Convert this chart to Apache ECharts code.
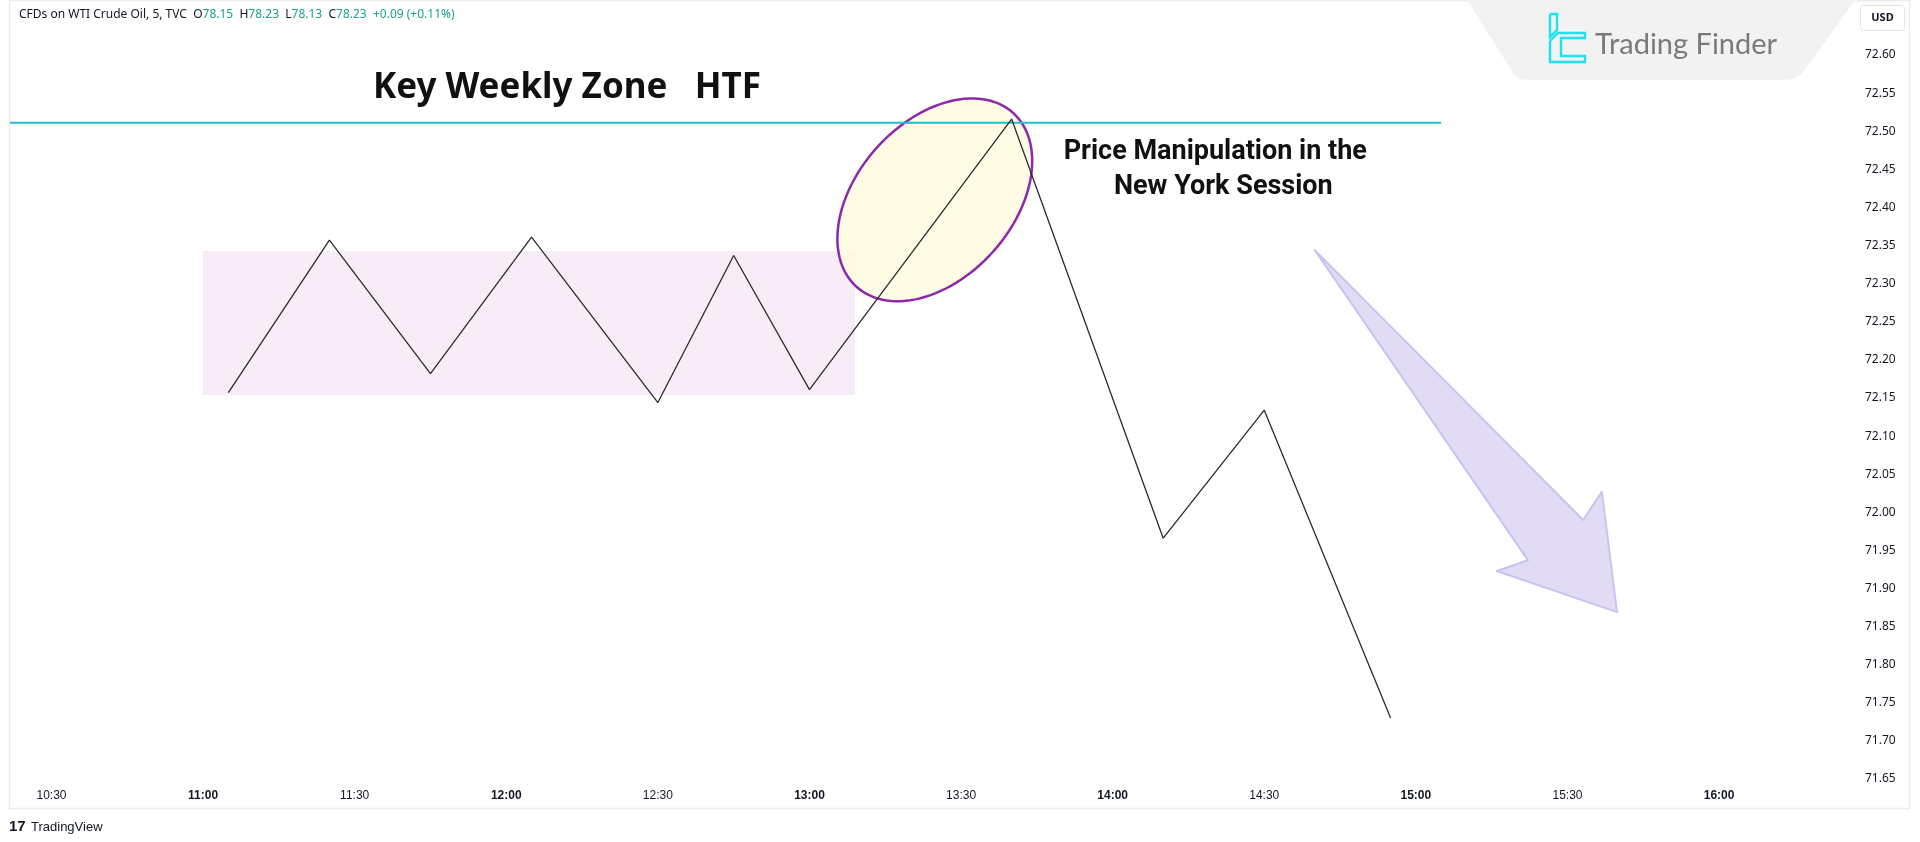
<!DOCTYPE html>
<html><head><meta charset="utf-8">
<script src="https://cdn.jsdelivr.net/npm/echarts@6/dist/echarts.min.js"></script>
<style>html,body{margin:0;padding:0;background:#fff}#c{width:1920px;height:842px}</style>
</head><body><div id="c"></div>
<script>
// ---- data (time = minutes since midnight, price in USD) ----
const priceTimes  = [665, 685, 705, 725, 750, 765, 780, 820, 850, 870, 895];
const priceValues = [72.157, 72.357, 72.182, 72.361, 72.144, 72.337, 72.161, 72.516, 71.966, 72.134, 71.730];
const keyLevelPrice = 72.511;
const keyLevelEndTime = 905;
const zoneTimes  = [660, 789];
const zonePrices = [72.154, 72.343];
const ellipseCenter = [804.8, 72.410];
const arrowTimes  = [880.0, 933.1, 936.8, 939.8, 916.0, 922.2];
const arrowPrices = [72.344, 71.990, 72.027, 71.869, 71.923, 71.937];
const timeTicks  = [630, 660, 690, 720, 750, 780, 810, 840, 870, 900, 930, 960];
const priceTicks = [71.65, 71.70, 71.75, 71.80, 71.85, 71.90, 71.95, 72.00, 72.05, 72.10, 72.15, 72.20, 72.25, 72.30, 72.35, 72.40, 72.45, 72.50, 72.55, 72.60];
const keyZoneLabel = {text: 'Key Weekly Zone   HTF', at: [732, 72.557]};
const manipLabel1 = {text: 'Price Manipulation in the', at: [860.3, 72.473]};
const manipLabel2 = {text: 'New York Session', at: [861.9, 72.427]};
const header = {symbol: 'CFDs on WTI Crude Oil, 5, TVC', o: '78.15', h: '78.23', l: '78.13', c: '78.23', chg: '+0.09 (+0.11%)'};

// ---- axes range ----
const X_MIN = 621.79, X_MAX = 985.91;
const Y_MIN = 71.6448, Y_MAX = 72.6709;

const chart = echarts.init(document.getElementById('c'), null, {renderer: 'canvas'});

function fmtTime(v) {
  const h = Math.floor(v / 60), m = Math.round(v % 60);
  return (h < 10 ? '0' : '') + h + ':' + (m < 10 ? '0' : '') + m;
}

function ellipsePoints(cx, cy, a, b, phiDeg) {
  const phi = phiDeg * Math.PI / 180, pts = [];
  for (let i = 0; i < 120; i++) {
    const th = i / 120 * Math.PI * 2;
    const x = a * Math.cos(th), y = b * Math.sin(th);
    pts.push([cx + x * Math.cos(phi) - y * Math.sin(phi), cy - (x * Math.sin(phi) + y * Math.cos(phi))]);
  }
  return pts;
}

function textSeries(lbl, style) {
  return {
    type: 'custom', z: 20, silent: true, clip: false,
    data: [lbl.at],
    renderItem: function (params, api) {
      const p = api.coord([api.value(0), api.value(1)]);
      return {type: 'text', x: p[0], y: p[1], style: Object.assign({
        text: lbl.text, align: 'center', verticalAlign: 'middle', fill: '#111'
      }, style)};
    }
  };
}

const option = {
  animation: false,
  backgroundColor: '#ffffff',
  grid: {left: 10, top: 1, width: 1840, height: 782, containLabel: false},
  xAxis: {
    type: 'value', min: X_MIN, max: X_MAX,
    axisLine: {show: false}, axisTick: {show: false}, splitLine: {show: false},
    axisLabel: {
      customValues: timeTicks, margin: 7,
      formatter: function (v) { const s = fmtTime(v); return (Math.round(v) % 60 === 0) ? '{b|' + s + '}' : '{n|' + s + '}'; },
      rich: {
        b: {fontSize: 12, fontWeight: 'bold', color: '#131722', fontFamily: 'Liberation Sans'},
        n: {fontSize: 12, color: '#131722', fontFamily: 'Liberation Sans'}
      }
    }
  },
  yAxis: {
    type: 'value', position: 'right', min: Y_MIN, max: Y_MAX,
    axisLine: {show: false}, axisTick: {show: false}, splitLine: {show: false},
    axisLabel: {
      customValues: priceTicks, margin: 15, align: 'left',
      fontSize: 12, color: '#131722', fontFamily: 'Noto Sans',
      formatter: function (v) { return v.toFixed(2); }
    }
  },
  series: [
    { // pink consolidation zone
      type: 'custom', z: 1, silent: true,
      data: [[zoneTimes[0], zonePrices[0], zoneTimes[1], zonePrices[1]]],
      renderItem: function (params, api) {
        const p0 = api.coord([api.value(0), api.value(3)]);
        const p1 = api.coord([api.value(2), api.value(1)]);
        return {type: 'rect', shape: {x: p0[0], y: p0[1], width: p1[0] - p0[0], height: p1[1] - p0[1]},
          style: {fill: '#f8ecf7'}};
      }
    },
    { // ellipse highlight
      type: 'custom', z: 2, silent: true, clip: false,
      data: [ellipseCenter],
      renderItem: function (params, api) {
        const c = api.coord([api.value(0), api.value(1)]);
        return {type: 'polygon', shape: {points: ellipsePoints(c[0], c[1], 117, 78, 48)},
          style: {fill: 'rgba(255,252,225,0.85)', stroke: '#8e27a8', lineWidth: 2.5}};
      }
    },
    { // key weekly level
      type: 'line', z: 3, silent: true, showSymbol: false,
      data: [[X_MIN, keyLevelPrice], [keyLevelEndTime, keyLevelPrice]],
      lineStyle: {color: '#23bccf', width: 2}
    },
    { // price path
      type: 'line', z: 4, silent: true, showSymbol: false,
      data: priceTimes.map(function (t, i) { return [t, priceValues[i]]; }),
      lineStyle: {color: '#2b2b2b', width: 1.3}
    },
    { // bearish arrow
      type: 'custom', z: 5, silent: true, clip: false,
      data: [arrowTimes.concat(arrowPrices)],
      renderItem: function (params, api) {
        const n = arrowTimes.length, pts = [];
        for (let i = 0; i < n; i++) pts.push(api.coord([api.value(i), api.value(n + i)]));
        return {type: 'polygon', shape: {points: pts},
          style: {fill: 'rgba(214,204,240,0.7)', stroke: '#cbc2f0', lineWidth: 2, lineJoin: 'round'}};
      }
    },
    textSeries(keyZoneLabel, {fontSize: 35, fontWeight: 'bold', fontFamily: 'Noto Sans', fill: '#111'}),
    textSeries(manipLabel1, {fontSize: 27, fontWeight: 'bold', fontFamily: 'Roboto', fill: '#111'}),
    textSeries(manipLabel2, {fontSize: 27, fontWeight: 'bold', fontFamily: 'Roboto', fill: '#111'})
  ],
  graphic: [
    // outer frame
    {type: 'rect', z: 0, silent: true, shape: {x: 9.5, y: 0.5, width: 1900, height: 808},
      style: {fill: 'none', stroke: '#ececec', lineWidth: 1.5}},
    // logo banner
    {type: 'polygon', z: 10, silent: true,
      shape: {points: [[1467, 0], [1855, 0], [1806, 68], [1800, 75], [1793, 79], [1784, 80], [1530, 80], [1521, 79], [1514, 75], [1510, 68]]},
      style: {fill: '#f2f2f2'}},
    // logo icon (outlined strokes)
    {type: 'polyline', z: 11, silent: true,
      shape: {points: [[1550, 14], [1557, 14], [1557, 30], [1550, 37], [1550, 14]]},
      style: {stroke: '#1de2ef', lineWidth: 2.4, fill: 'none'}},
    {type: 'polyline', z: 11, silent: true,
      shape: {points: [[1550, 41], [1558, 33], [1585, 33], [1585, 38], [1561, 38], [1561, 56], [1585, 56], [1585, 62], [1550, 62], [1550, 41]]},
      style: {stroke: '#1de2ef', lineWidth: 2.4, fill: 'none'}},
    {type: 'text', z: 11, silent: true, x: 1595, y: 45,
      style: {text: 'Trading Finder', fontSize: 29, fontFamily: 'Lato', fill: '#7a7a7a', verticalAlign: 'middle', align: 'left'}},
    // USD box
    {type: 'rect', z: 11, silent: true, shape: {x: 1860.5, y: 5.5, width: 44, height: 25, r: 3},
      style: {fill: '#fff', stroke: '#e3e3e3', lineWidth: 1}},
    {type: 'text', z: 12, silent: true, x: 1882.5, y: 18,
      style: {text: 'USD', fontSize: 11, fontWeight: 'bold', fontFamily: 'Noto Sans', fill: '#131722', align: 'center', verticalAlign: 'middle'}},
    // header
    {type: 'text', z: 12, silent: true, x: 19, y: 15,
      style: {
        text: '{k|' + header.symbol + '  O}{g|' + header.o + '}{k|  H}{g|' + header.h + '}{k|  L}{g|' + header.l + '}{k|  C}{g|' + header.c + '}{g|  ' + header.chg + '}',
        verticalAlign: 'middle',
        rich: {
          k: {fontSize: 12, fontFamily: 'Noto Sans', fill: '#131722'},
          g: {fontSize: 12, fontFamily: 'Noto Sans', fill: '#1ea28a'}
        }
      }},
    // TradingView footer
    {type: 'text', z: 12, silent: true, x: 9, y: 827,
      style: {text: '17', fontSize: 15, fontWeight: 'bold', fontFamily: 'Liberation Sans', fill: '#131722', verticalAlign: 'middle'}},
    {type: 'text', z: 12, silent: true, x: 31, y: 827,
      style: {text: 'TradingView', fontSize: 13, fontFamily: 'Liberation Sans', fill: '#131722', verticalAlign: 'middle'}}
  ]
};
chart.setOption(option);
</script>
</body></html>
